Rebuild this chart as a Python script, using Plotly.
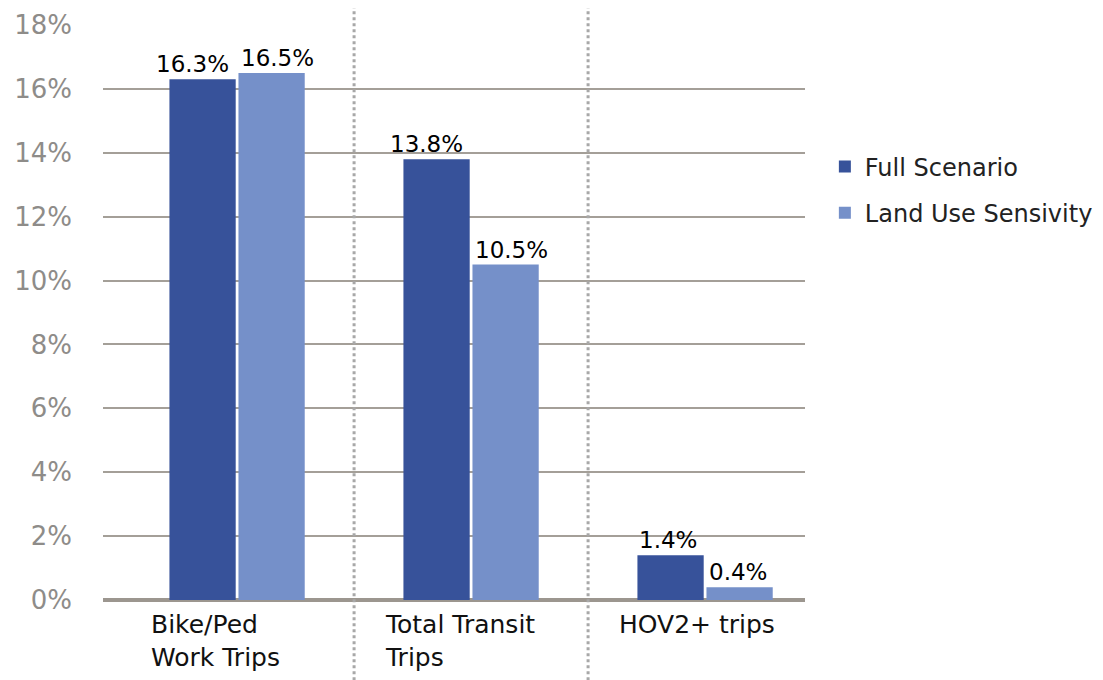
import plotly.graph_objects as go

categories = ["Bike/Ped<br>Work Trips", "Total Transit<br>Trips", "HOV2+ trips"]
cat_keys = ["bike", "transit", "hov"]
full_scenario = [16.3, 13.8, 1.4]
land_use = [16.5, 10.5, 0.4]
y_ticks = [0, 2, 4, 6, 8, 10, 12, 14, 16, 18]
y_tick_labels = [f"{v}%" for v in y_ticks]

DARK = "#37529A"
LIGHT = "#7590C9"
GRID = "#A49F98"
LABEL_FONT = dict(family="DejaVu Sans", size=23, color="#000000")

fig = go.Figure()
fig.add_trace(go.Bar(
    x=cat_keys, y=full_scenario, name="Full Scenario", legendgroup="a",
    marker=dict(color=DARK, line=dict(width=0)), cliponaxis=False,
))
fig.add_trace(go.Bar(
    x=cat_keys, y=land_use, name="Land Use Sensivity", legendgroup="b",
    marker=dict(color=LIGHT, line=dict(width=0)), cliponaxis=False,
))

# value labels: first series anchored toward the group centre from the left,
# second series from the right, so neighbouring labels never collide
for key, v in zip(cat_keys, full_scenario):
    fig.add_annotation(x=key, y=v, xref="x", yref="y", text=f"{v:.1f}%",
                       showarrow=False, xanchor="right", yanchor="bottom",
                       xshift=-6, yshift=0, font=LABEL_FONT)
for key, v in zip(cat_keys, land_use):
    fig.add_annotation(x=key, y=v, xref="x", yref="y", text=f"{v:.1f}%",
                       showarrow=False, xanchor="left", yanchor="bottom",
                       xshift=2, yshift=0, font=LABEL_FONT)

# dotted separators between categories
for xpos in [0.5, 1.5]:
    fig.add_shape(type="line", xref="x", yref="paper", x0=xpos, x1=xpos,
                  y0=-0.15, y1=1.03, line=dict(color="#A8A8A8", width=3, dash="dot"),
                  layer="above")

# left-aligned category labels
for key, lab in zip(cat_keys, categories):
    fig.add_annotation(x=key, y=0, xref="x", yref="paper", text=lab,
                       showarrow=False, xanchor="left", yanchor="top", align="left",
                       xshift=-88, yshift=-8,
                       font=dict(family="DejaVu Sans", size=25, color="#111111"))

fig.update_layout(
    width=1095, height=672,
    paper_bgcolor="white", plot_bgcolor="white",
    margin=dict(l=95, r=298, t=17, b=80),
    barmode="group", bargap=0.41, bargroupgap=0.04,
    showlegend=True,
    legend=dict(xref="container", yref="container", x=0.746, y=0.797,
                xanchor="left", yanchor="top",
                font=dict(family="DejaVu Sans", size=24, color="#222222"),
                itemsizing="constant", tracegroupgap=12, bgcolor="rgba(0,0,0,0)"),
    font=dict(family="DejaVu Sans"),
)
fig.update_xaxes(type="category", range=[-0.573, 2.427], showticklabels=False,
                 showgrid=False, zeroline=False, showline=False, ticks="",
                 automargin=False)
fig.update_yaxes(range=[0, 18], tickvals=y_ticks, ticktext=y_tick_labels,
                 showgrid=True, gridcolor=GRID, gridwidth=1.5,
                 zeroline=True, zerolinecolor="#9C968F", zerolinewidth=4,
                 showline=False, ticks="", ticklabelstandoff=30, automargin=False,
                 tickfont=dict(family="DejaVu Sans", size=26, color="#8E8C89"))

fig.write_html("out.html")
